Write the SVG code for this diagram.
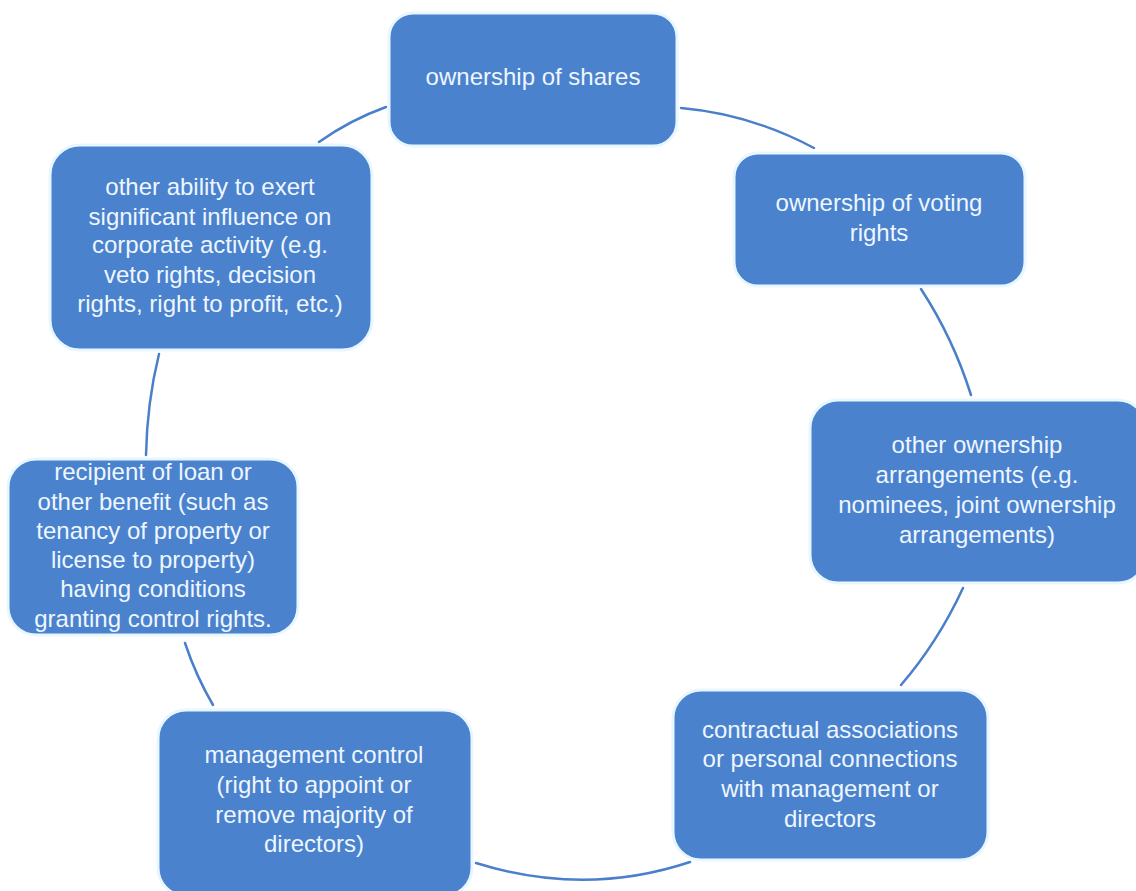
<svg xmlns="http://www.w3.org/2000/svg" width="1136" height="891" viewBox="0 0 1136 891">
<style>
.box{fill:#4a82cd;stroke:#e8f7ff;stroke-width:3}
.t{font-family:"Liberation Sans",Arial,sans-serif;font-size:24px;fill:#eef6ff;text-anchor:middle}
.c{fill:none;stroke:#4a7fc9;stroke-width:2.5;stroke-linecap:round}
</style>
<rect width="1136" height="891" fill="#ffffff"/>
<g id="connectors">
<path class="c" d="M319,142 Q350,120 386,107"/>
<path class="c" d="M681,108 Q750,114 814,148"/>
<path class="c" d="M921,289 Q953,338 971,395"/>
<path class="c" d="M963,588 Q938,642 901,685"/>
<path class="c" d="M476,863 Q585,897 690,862"/>
<path class="c" d="M213,705 Q196,676 185,643"/>
<path class="c" d="M146,455 Q147,403 159,354"/>
</g>
<g id="n1">
<rect class="box" x="389" y="13" width="288" height="133" rx="24"/>
<text class="t" x="533" y="85">ownership of shares</text>
</g>
<g id="n2">
<rect class="box" x="734" y="153" width="291" height="133" rx="24"/>
<text class="t" x="879" y="211">ownership of voting</text>
<text class="t" x="879" y="241">rights</text>
</g>
<g id="n3">
<rect class="box" x="810" y="400" width="336" height="183" rx="28"/>
<text class="t" x="977" y="453">other ownership</text>
<text class="t" x="977" y="483">arrangements (e.g.</text>
<text class="t" x="977" y="513">nominees, joint ownership</text>
<text class="t" x="977" y="543">arrangements)</text>
</g>
<g id="n4">
<rect class="box" x="673" y="690" width="315" height="170" rx="28"/>
<text class="t" x="830" y="738">contractual associations</text>
<text class="t" x="830" y="767">or personal connections</text>
<text class="t" x="830" y="797">with management or</text>
<text class="t" x="830" y="827">directors</text>
</g>
<g id="n5">
<rect class="box" x="158" y="710" width="314" height="186" rx="28"/>
<text class="t" x="314" y="763">management control</text>
<text class="t" x="314" y="793">(right to appoint or</text>
<text class="t" x="314" y="823">remove  majority of</text>
<text class="t" x="314" y="852">directors)</text>
</g>
<g id="n6">
<rect class="box" x="8" y="459" width="290" height="176" rx="28"/>
<text class="t" x="153" y="480">recipient of loan or</text>
<text class="t" x="153" y="510">other benefit (such as</text>
<text class="t" x="153" y="539">tenancy of property or</text>
<text class="t" x="153" y="568">license to property)</text>
<text class="t" x="153" y="597">having conditions</text>
<text class="t" x="153" y="627">granting control rights.</text>
</g>
<g id="n7">
<rect class="box" x="50" y="145" width="322" height="205" rx="30"/>
<text class="t" x="210" y="195">other ability to exert</text>
<text class="t" x="210" y="225">significant influence on</text>
<text class="t" x="210" y="253">corporate activity (e.g.</text>
<text class="t" x="210" y="283">veto rights, decision</text>
<text class="t" x="210" y="312">rights, right to profit, etc.)</text>
</g>
</svg>
